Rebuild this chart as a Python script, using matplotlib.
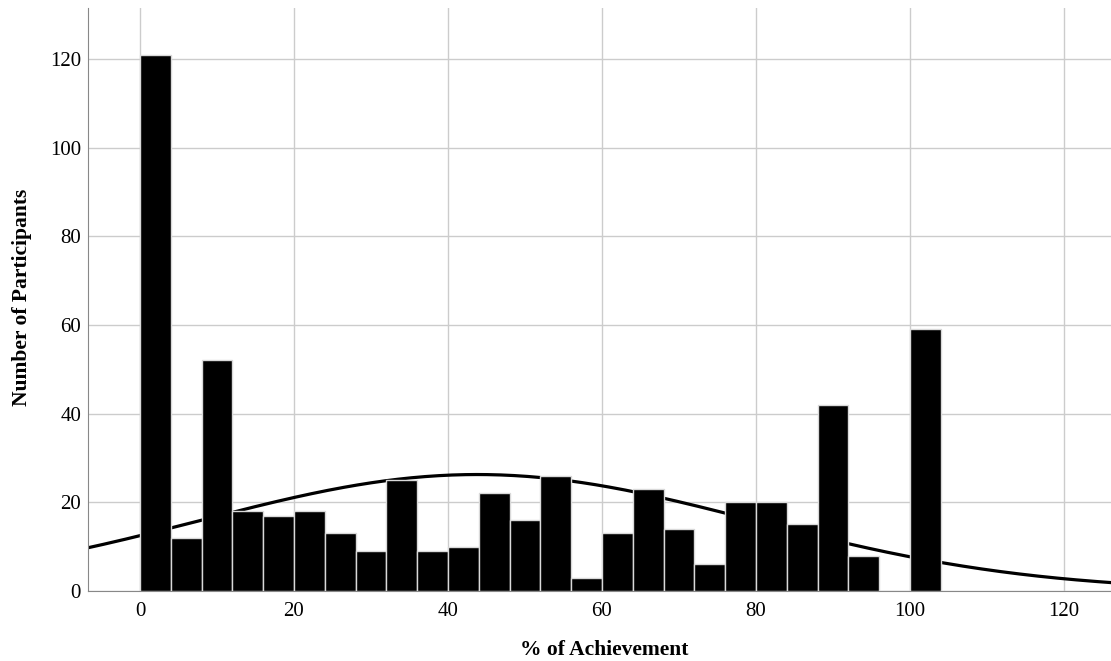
import numpy as np
import matplotlib.pyplot as plt

# histogram counts, bins of width 4 starting at 0
bin_starts = [0, 4, 8, 12, 16, 20, 24, 28, 32, 36, 40, 44, 48, 52, 56, 60,
              64, 68, 72, 76, 80, 84, 88, 92, 96, 100]
counts = [121, 12, 52, 18, 17, 18, 13, 9, 25, 9, 10, 22, 16, 26, 3, 13,
          23, 14, 6, 20, 20, 15, 42, 8, 0, 59]
bin_width = 4

# fitted normal curve parameters
curve_mean = 43.8
curve_sd = 35.9
n_total = sum(counts)

xticks = [0, 20, 40, 60, 80, 100, 120]
yticks = [0, 20, 40, 60, 80, 100, 120]

plt.rcParams['font.family'] = ['Liberation Serif', 'DejaVu Serif']

fig = plt.figure(figsize=(11.11, 6.61), dpi=100)
ax = fig.add_axes([0.0792, 0.1059, 0.9208, 0.8820])

xs = np.linspace(-10, 130, 400)
ys = n_total * bin_width / (curve_sd * np.sqrt(2 * np.pi)) * np.exp(-0.5 * ((xs - curve_mean) / curve_sd) ** 2)
ax.plot(xs, ys, color='black', lw=2.3, zorder=2)

ax.bar(bin_starts, counts, width=bin_width, align='edge', color='black',
       edgecolor='#d9d9d9', linewidth=1.0, zorder=3)

ax.set_xlim(-6.75, 126.1)
ax.set_ylim(0, 131.5)
ax.set_xticks(xticks)
ax.set_yticks(yticks)
ax.tick_params(length=0, labelsize=15)
ax.tick_params(axis='x', pad=8)
ax.tick_params(axis='y', pad=5)
ax.grid(True, color='#cccccc', linewidth=1.0, zorder=0)
ax.set_axisbelow(True)

for s in ['top', 'right']:
    ax.spines[s].set_visible(False)
ax.spines['left'].set_color('#888888')
ax.spines['bottom'].set_color('#888888')

# axis titles placed like the original export
fig.text(604 / 1111, 1 - 650 / 661, '% of Achievement', fontsize=15.5,
         fontweight='bold', ha='center', va='center')
fig.text(22 / 1111, 1 - 297 / 661, 'Number of Participants', fontsize=15.5,
         fontweight='bold', ha='center', va='center', rotation=90)

fig.savefig('out.png', dpi=100)
